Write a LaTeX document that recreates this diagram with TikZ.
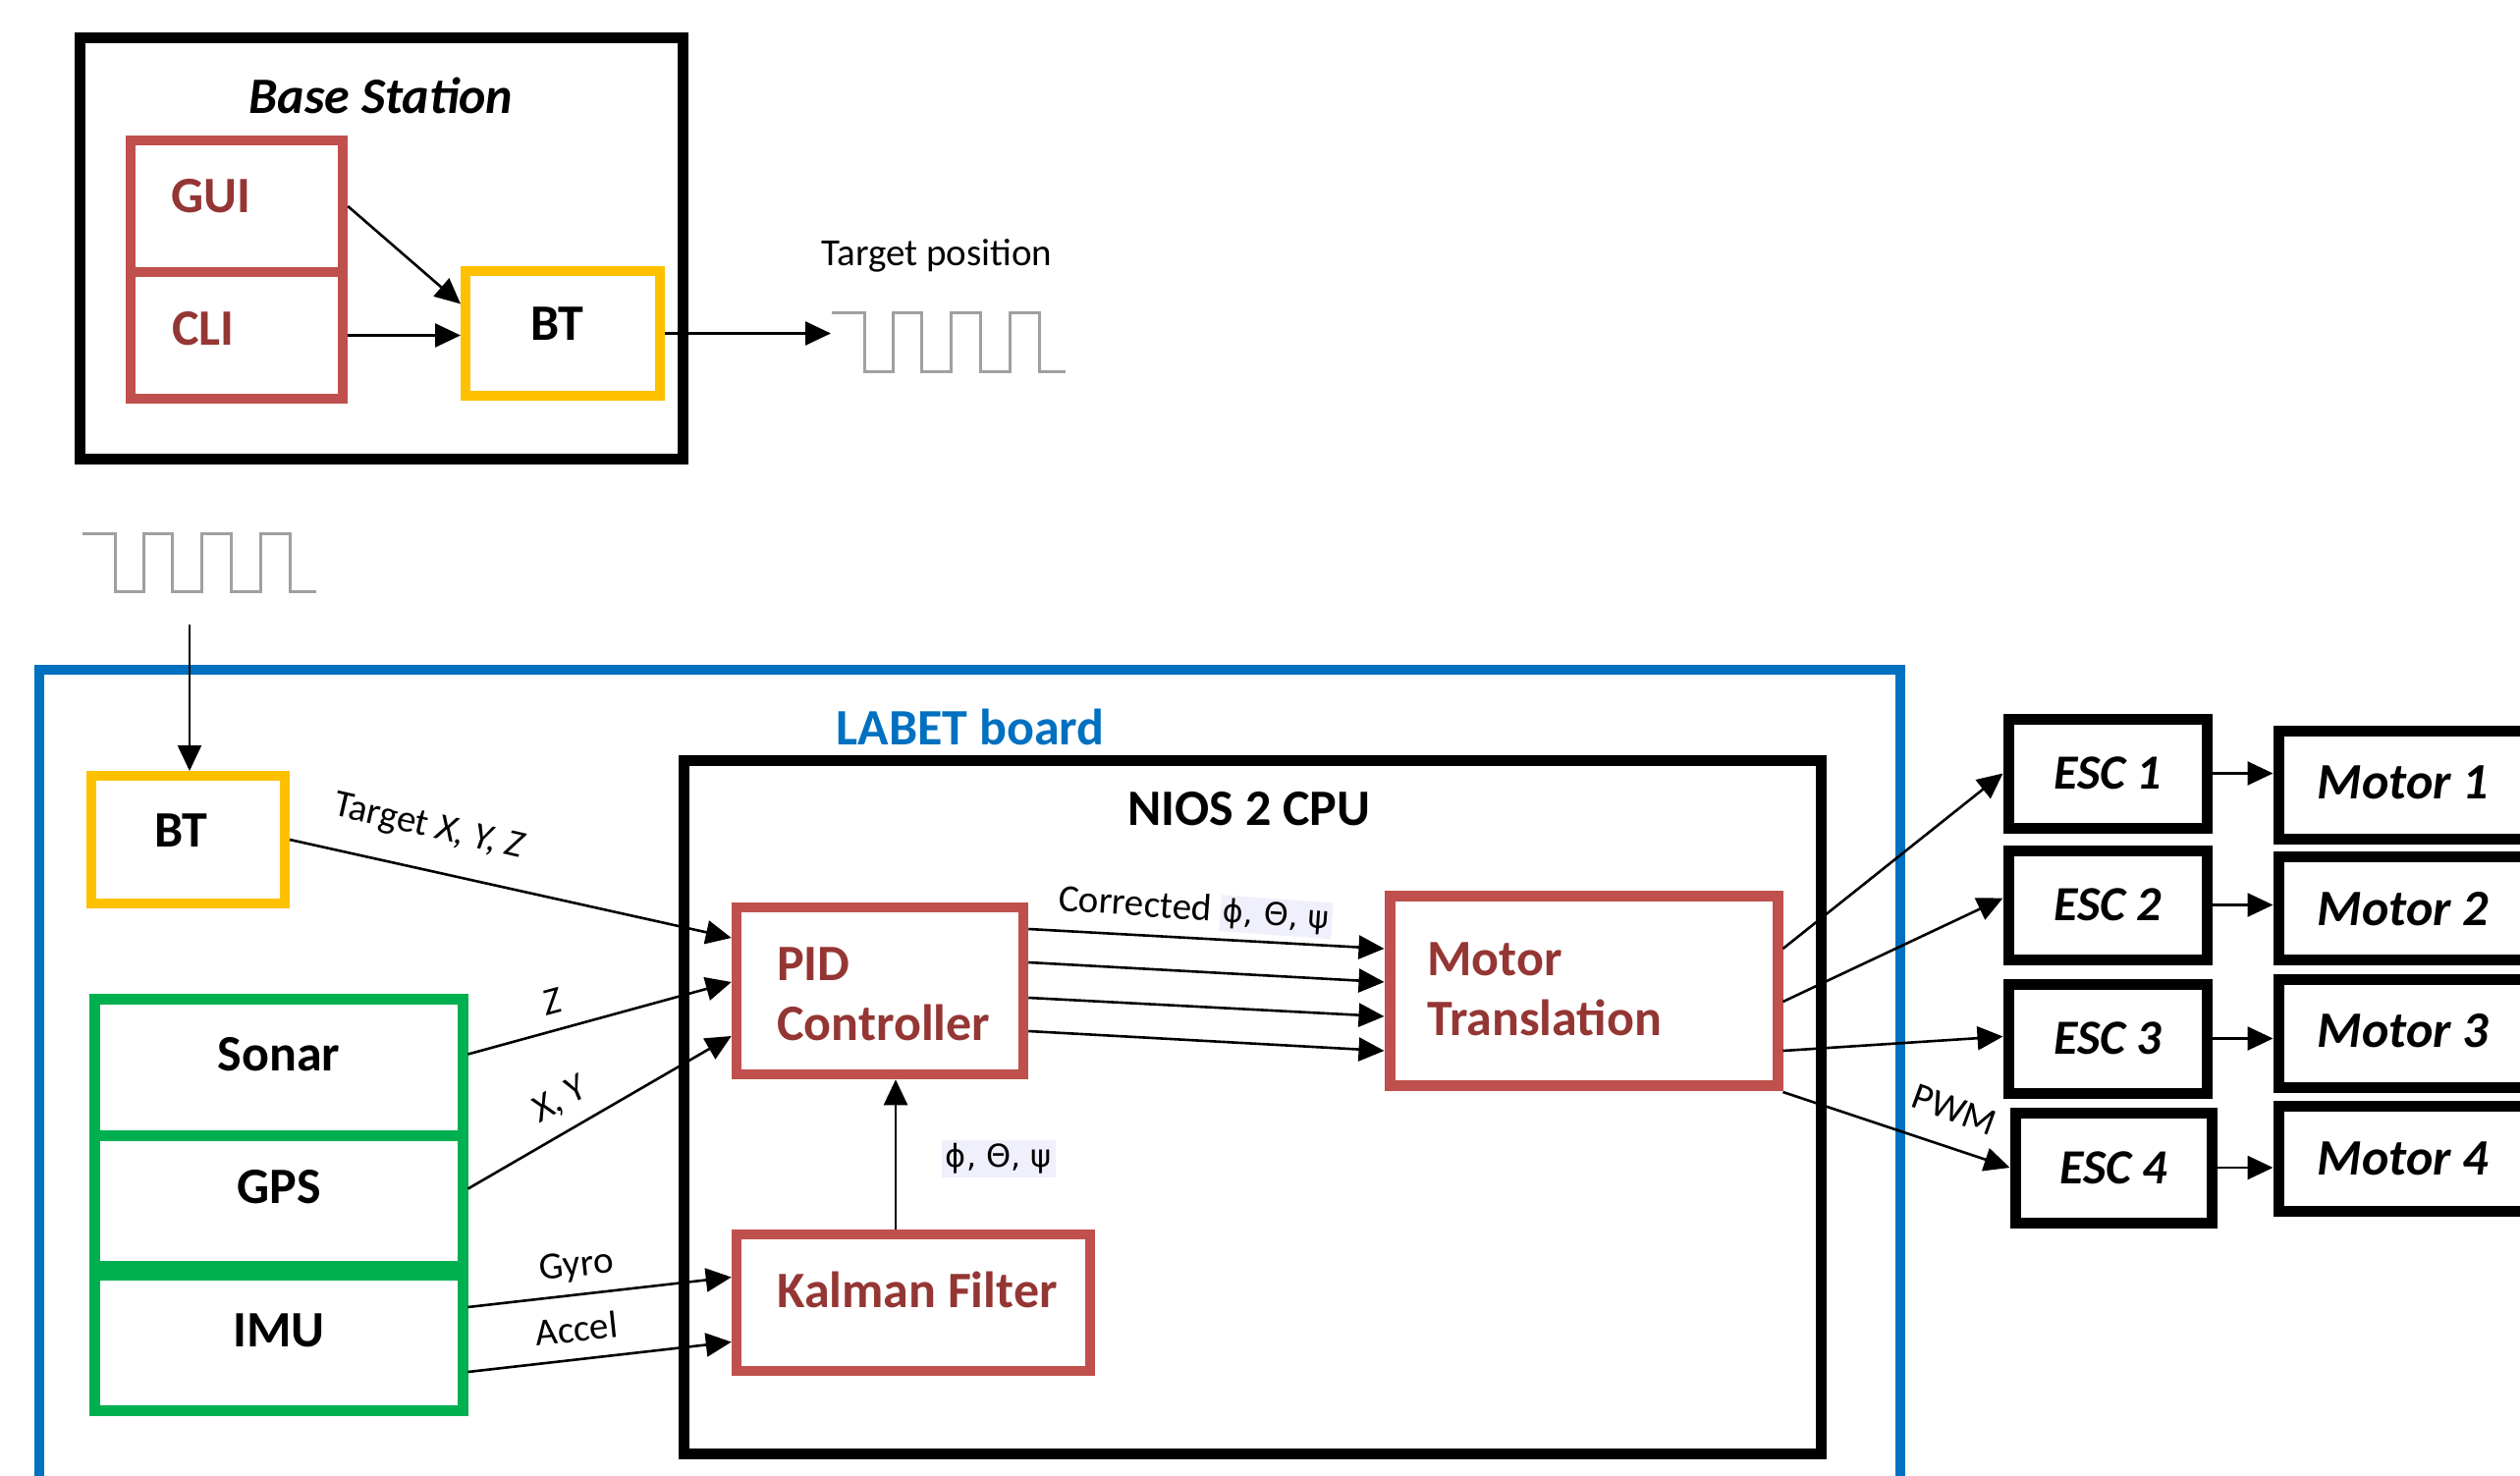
\documentclass[tikz,border=0pt]{standalone}
\usepackage{fontspec}
\setmainfont{Carlito}
\newfontfamily\grk{DejaVu Sans}
\usetikzlibrary{arrows.meta,calc}
\definecolor{bred}{HTML}{C0504D}
\definecolor{tred}{HTML}{943634}
\definecolor{byel}{HTML}{FFC000}
\definecolor{bgrn}{HTML}{00B050}
\definecolor{bblu}{HTML}{0070C0}
\definecolor{wgry}{HTML}{A0A0A0}
\definecolor{lbg}{HTML}{F0F0FC}
\tikzset{
  box/.style={draw, rectangle, inner sep=0pt, line width=11pt},
  redbox/.style={box, draw=bred, line width=10.5pt},
  yelbox/.style={box, draw=byel, line width=10pt},
  grnbox/.style={box, draw=bgrn, line width=11pt},
  arr/.style={line width=2.6pt, -{Triangle[length=26pt,width=24pt]}},
  wave/.style={draw=wgry, line width=3pt},
  lbl/.style={font=\fontsize{39}{46}\selectfont, inner sep=0pt},
  big/.style={font=\fontsize{52}{62}\selectfont\bfseries, inner sep=0pt},
  redtxt/.style={font=\fontsize{52}{61}\selectfont\bfseries, inner sep=0pt, text=tred, align=left, anchor=west},
  bigit/.style={font=\fontsize{52}{62}\selectfont\bfseries\itshape, inner sep=0pt},
  escit/.style={font=\fontsize{50}{60}\selectfont\bfseries\itshape, inner sep=0pt},
  grktxt/.style={font=\fontsize{32}{38}\selectfont\grk},
}
\begin{document}
\begin{tikzpicture}[x=1pt,y=-1pt]
\useasboundingbox (0,0) rectangle (2566,1503);
\clip (0,0) rectangle (2566,1503);

% ---------------- Base station ----------------
\node[box, minimum width=614, minimum height=428] (base) at (388,253) {};
\node[bigit] (baset) at (388,97) {Base Station};
\node[redbox, minimum width=216, minimum height=134] (gui) at (241,210) {};
\node[redbox, minimum width=216, minimum height=129] (cli) at (241,341.5) {};
\node[redtxt] (guit) at (174,200) {GUI};
\node[redtxt] (clit) at (175,335) {CLI};
\node[yelbox, minimum width=198, minimum height=127] (bt) at (573,339.5) {};
\node[big] (btt) at (567,330) {BT};

\draw[arr] (gui.east) -- ($(bt.west)+(0,-30)$);
\draw[arr] (cli.east) -- (cli.east -| bt.west);

% waveform 1
\draw[wave] (847,319) -- ++(33,0) -- ++(0,59) -- ++(29,0) -- ++(0,-59) -- ++(29,0) -- ++(0,59)
  -- ++(30,0) -- ++(0,-59) -- ++(30,0) -- ++(0,59) -- ++(30,0) -- ++(0,-59) -- ++(30,0) -- ++(0,59) -- ++(27,0);
\coordinate (wf1) at (846,343);
\node[lbl] (tpos) at (954,260) {Target position};
\draw[arr] (bt.east) -- (bt.east -| wf1);

% waveform 2
\draw[wave] (84,543) -- ++(33,0) -- ++(0,59) -- ++(29,0) -- ++(0,-59) -- ++(29,0) -- ++(0,59)
  -- ++(30,0) -- ++(0,-59) -- ++(30,0) -- ++(0,59) -- ++(30,0) -- ++(0,-59) -- ++(30,0) -- ++(0,59) -- ++(27,0);
\coordinate (wf2) at (193,636);

% ---------------- LABET board ----------------
\node[box, draw=bblu, line width=10pt, minimum width=1895, minimum height=880] (labet) at (987.5,1122) {};
\node[big, text=bblu] (labett) at (988,740) {LABET board};

\node[yelbox, minimum width=197, minimum height=130] (bt2) at (191.5,855) {};
\node[big] (bt2t) at (184,846) {BT};
\draw[arr, line width=2.2pt] (wf2) -- (wf2 |- bt2.north);

\node[box, minimum width=1158, minimum height=706] (nios) at (1275,1127) {};
\node[big] (niost) at (1272,824) {NIOS 2 CPU};

\node[redbox, minimum width=292, minimum height=170] (pid) at (896,1009) {};
\node[redtxt] (pidt) at (791,1012) {PID\\Controller};
\node[redbox, minimum width=360, minimum height=139] (kal) at (930,1326.5) {};
\node[redtxt] (kalt) at (791,1313) {Kalman Filter};
\node[box, draw=bred, minimum width=395, minimum height=193] (mt) at (1612.5,1008.5) {};
\node[redtxt] (mtt) at (1453,1007) {Motor\\Translation};

\node[grnbox, minimum width=375, minimum height=139] (sonar) at (283.5,1086.5) {};
\node[grnbox, minimum width=375, minimum height=133] (gps) at (283.5,1222.5) {};
\node[grnbox, minimum width=375, minimum height=138] (imu) at (283.5,1367) {};
\node[big] (sonart) at (284,1074) {Sonar};
\node[big] (gpst) at (284,1209) {GPS};
\node[big] (imut) at (284,1355) {IMU};

% inputs to PID / Kalman
\draw[arr] (bt2.east) -- ($(pid.west)+(0,-54)$);
\node[lbl, rotate=-13] (ltgt) at (437,843) {Target \textit{X, Y, Z}};
\draw[arr] ($(sonar.east)+(0,-13)$) -- ($(pid.west)+(0,-9)$);
\node[lbl, rotate=15] (lz) at (563,1020) {\textit{Z}};
\draw[arr] ($(gps.east)+(0,-12)$) -- ($(pid.west)+(0,46)$);
\node[lbl, rotate=30] (lxy) at (571,1120) {\textit{X, Y}};
\draw[arr] ($(imu.east)+(0,-36)$) -- ($(kal.west)+(0,-26)$);
\node[lbl, rotate=6] (lgyro) at (587,1290) {Gyro};
\draw[arr] ($(imu.east)+(0,30)$) -- ($(kal.west)+(0,40)$);
\node[lbl, rotate=6] (lacc) at (587,1353) {Accel};

% Kalman -> PID
\coordinate (kn) at ($(kal.north)+(-18,0)$);
\draw[arr] (kn) -- (kn |- pid.south);
\node[grktxt, fill=lbg, inner sep=4pt] (lang) at (1017,1180) {ϕ, Θ, ψ};

% PID -> Motor translation
\draw[arr] ($(pid.east)+(0,-63)$) -- ($(mt.west)+(0,-42.5)$);
\draw[arr] ($(pid.east)+(0,-29)$) -- ($(mt.west)+(0,-8.5)$);
\draw[arr] ($(pid.east)+(0,7)$) -- ($(mt.west)+(0,26.5)$);
\draw[arr] ($(pid.east)+(0,41)$) -- ($(mt.west)+(0,61.5)$);
\node[lbl, rotate=-4] (lcorr) at (1217,928) {Corrected {\setlength\fboxsep{3pt}\colorbox{lbg}{\fontsize{32}{38}\selectfont\grk ϕ, Θ, ψ}}};

% ESC and motors
\node[box, minimum width=202, minimum height=111, escit] (esc1) at (2146,787.5) {ESC 1};
\node[box, minimum width=202, minimum height=111, escit] (esc2) at (2146,921.5) {ESC 2};
\node[box, minimum width=202, minimum height=111, escit] (esc3) at (2146,1057.5) {ESC 3};
\node[box, minimum width=200, minimum height=112, escit] (esc4) at (2152,1189) {ESC 4};

\node[box, minimum width=320, minimum height=110] (m1) at (2480,799) {};
\node[box, minimum width=320, minimum height=105] (m2) at (2480,924.5) {};
\node[box, minimum width=320, minimum height=110] (m3) at (2480,1052) {};
\node[box, minimum width=320, minimum height=107] (m4) at (2480,1179.5) {};
\node[bigit] (m1t) at (2447,797) {Motor 1};
\node[bigit] (m2t) at (2447,926) {Motor 2};
\node[bigit] (m3t) at (2447,1050) {Motor 3};
\node[bigit] (m4t) at (2447,1180) {Motor 4};

\draw[arr] ($(mt.east)+(0,-42.5)$) -- (esc1.west);
\draw[arr] ($(mt.east)+(0,11.5)$) -- ($(esc2.west)+(0,-7)$);
\draw[arr] ($(mt.east)+(0,61.5)$) -- ($(esc3.west)+(0,-2)$);
\draw[arr] ($(mt.east)+(0,103.5)$) -- (esc4.west);
\node[lbl, rotate=-20] (lpwm) at (1990,1130) {PWM};

\draw[arr] (esc1.east) -- (esc1.east -| m1.west);
\draw[arr] (esc2.east) -- (esc2.east -| m2.west);
\draw[arr] (esc3.east) -- (esc3.east -| m3.west);
\draw[arr] (esc4.east) -- (esc4.east -| m4.west);
\end{tikzpicture}
\end{document}
